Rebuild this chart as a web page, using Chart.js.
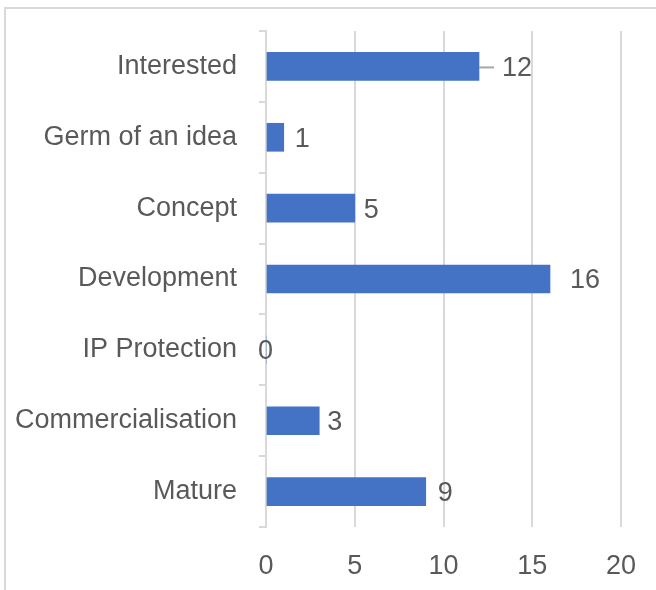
<!DOCTYPE html>
<html>
<head>
<meta charset="utf-8">
<script src="https://cdn.jsdelivr.net/npm/chart.js@4.4.1/dist/chart.umd.min.js"></script>
<style>
  html, body { margin: 0; padding: 0; background: #ffffff; }
  #wrap { width: 656px; height: 590px; position: relative; }
</style>
</head>
<body>
<div id="wrap"><canvas id="c" width="656" height="590"></canvas></div>
<script>
const categories = ["Interested", "Germ of an idea", "Concept", "Development", "IP Protection", "Commercialisation", "Mature"];
const values = [12, 1, 5, 16, 0, 3, 9];
const xTicks = [0, 5, 10, 15, 20];

const FONT = "'Liberation Sans', Arial, sans-serif";
const TEXT = '#595959';
const GRID = '#d9d9d9';

const labelShift = [23, 11, 9, 20, -8, 8, 12];

const frame = {
  id: 'frame',
  beforeDraw(chart) {
    const ctx = chart.ctx;
    ctx.save();
    ctx.fillStyle = '#ffffff';
    ctx.fillRect(0, 0, chart.width, chart.height);
    ctx.strokeStyle = GRID;
    ctx.lineWidth = 2;
    ctx.beginPath();
    ctx.moveTo(5, 600);
    ctx.lineTo(5, 8);
    ctx.lineTo(660, 8);
    ctx.stroke();
    ctx.restore();
  }
};

const valueLabels = {
  id: 'valueLabels',
  afterDatasetsDraw(chart) {
    const ctx = chart.ctx;
    const meta = chart.getDatasetMeta(0);
    ctx.save();
    ctx.font = '27px ' + FONT;
    ctx.fillStyle = TEXT;
    ctx.textBaseline = 'middle';
    ctx.textAlign = 'left';
    meta.data.forEach((bar, i) => {
      const x = bar.x;
      const y = bar.y;
      const shift = labelShift[i];
      if (i === 0) {
        ctx.strokeStyle = '#a6a6a6';
        ctx.lineWidth = 2;
        ctx.beginPath();
        ctx.moveTo(x, y + 1);
        ctx.lineTo(x + 15, y + 1);
        ctx.stroke();
      }
      ctx.fillText(String(values[i]), x + shift, y + 2);
    });
    ctx.restore();
  }
};

new Chart(document.getElementById('c'), {
  type: 'bar',
  data: {
    labels: categories,
    datasets: [{
      data: values,
      backgroundColor: '#4472C4',
      borderWidth: 0,
      barThickness: 28
    }]
  },
  options: {
    indexAxis: 'y',
    responsive: false,
    animation: false,
    layout: { padding: { left: 0, right: 35, top: 31, bottom: 0 } },
    plugins: { legend: { display: false }, tooltip: { enabled: false } },
    scales: {
      x: {
        min: 0, max: 20,
        afterBuildTicks(scale) { scale.ticks = xTicks.map(v => ({ value: v })); },
        grid: { color: GRID, lineWidth: 2, drawTicks: false },
        border: { display: false },
        ticks: { color: TEXT, font: { family: FONT, size: 27 }, padding: 23 },
        afterFit(scale) { scale.height = 590 - 527; scale.paddingLeft = 0; scale.paddingRight = 0; }
      },
      y: {
        grid: { drawOnChartArea: false, drawTicks: true, tickLength: 7, color: GRID, lineWidth: 2, offset: true },
        border: { display: true, color: GRID, width: 2 },
        ticks: { color: TEXT, font: { family: FONT, size: 27 }, padding: 22 },
        afterFit(scale) { scale.width = 266; scale.paddingTop = 0; scale.paddingBottom = 0; }
      }
    }
  },
  plugins: [frame, valueLabels]
});
</script>
</body>
</html>
